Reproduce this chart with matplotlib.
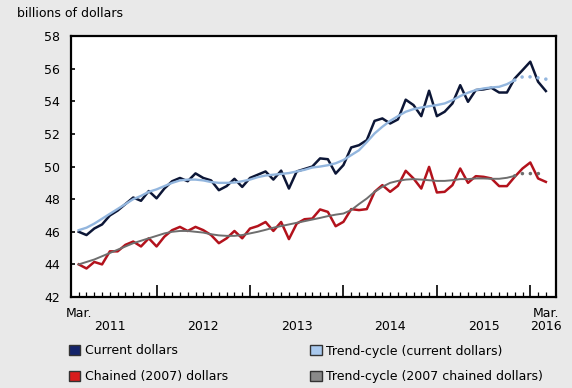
import numpy as np
import matplotlib
matplotlib.use("Agg")
import matplotlib.pyplot as plt
from matplotlib.patches import Patch
from matplotlib.ticker import FixedLocator

# ================ data (billions of dollars, monthly, Mar. 2011 - Mar. 2016) ================
CURRENT = [46.0, 45.8, 46.2, 46.45, 47.0, 47.3, 47.7, 48.1, 47.9, 48.5,
           48.05, 48.65, 49.1, 49.3, 49.1, 49.58, 49.3, 49.15, 48.55, 48.8,
           49.25, 48.75, 49.3, 49.5, 49.7, 49.2, 49.75, 48.65, 49.7, 49.85,
           50.0, 50.5, 50.45, 49.57, 50.09, 51.17, 51.31, 51.62, 52.8, 52.95,
           52.64, 52.89, 54.1, 53.77, 53.09, 54.65, 53.09, 53.36, 53.87, 54.99,
           53.97, 54.69, 54.73, 54.83, 54.54, 54.54, 55.4, 55.91, 56.43, 55.2, 54.63]
CHAINED = [44.0, 43.75, 44.15, 44.0, 44.8, 44.8, 45.2, 45.4, 45.1, 45.6,
           45.1, 45.7, 46.1, 46.3, 46.05, 46.3, 46.1, 45.8, 45.3, 45.6,
           46.05, 45.6, 46.2, 46.35, 46.6, 46.05, 46.6, 45.55, 46.5, 46.77,
           46.81, 47.37, 47.22, 46.34, 46.61, 47.39, 47.33, 47.39, 48.45, 48.86,
           48.45, 48.82, 49.74, 49.27, 48.65, 49.98, 48.41, 48.45, 48.86, 49.88,
           49.0, 49.41, 49.37, 49.27, 48.8, 48.8, 49.37, 49.88, 50.25, 49.27, 49.06]
TREND_CURRENT = [46.1, 46.25, 46.5, 46.8, 47.1, 47.4, 47.7, 48.0, 48.2, 48.45,
                 48.6, 48.8, 49.0, 49.15, 49.2, 49.2, 49.15, 49.05, 49.0, 49.0,
                 49.02, 49.1, 49.2, 49.35, 49.45, 49.5, 49.55, 49.6, 49.7, 49.8,
                 49.94, 50.0, 50.08, 50.2, 50.4, 50.7, 51.0, 51.5, 52.03, 52.44,
                 52.8, 53.09, 53.36, 53.52, 53.62, 53.7, 53.77, 53.87, 54.07, 54.32,
                 54.53, 54.69, 54.79, 54.85, 54.89, 55.05, 55.3, 55.5, 55.5, 55.44, 55.36]
TREND_CHAINED = [44.0, 44.15, 44.3, 44.5, 44.7, 44.9, 45.1, 45.3, 45.45, 45.6,
                 45.75, 45.9, 46.0, 46.05, 46.05, 46.0, 45.95, 45.85, 45.78, 45.75,
                 45.75, 45.8, 45.9, 46.0, 46.12, 46.25, 46.35, 46.45, 46.55, 46.65,
                 46.75, 46.85, 46.96, 47.05, 47.12, 47.33, 47.7, 48.04, 48.45, 48.76,
                 49.0, 49.12, 49.2, 49.23, 49.2, 49.16, 49.12, 49.12, 49.16, 49.23,
                 49.23, 49.27, 49.27, 49.25, 49.25, 49.31, 49.43, 49.57, 49.57, 49.57, 49.53]

YEARS = ["2011", "2012", "2013", "2014", "2015", "2016"]
YEAR_LABEL_POS = [4, 16, 28, 40, 52, 60]   # month index under which each year is written
JAN_TICKS = [10, 22, 34, 46, 58]           # month index of each January
LAST_SOLID = 56                            # trend-cycle is dotted after this month

# ================ style ================
BG = "#e9e9e9"
C_CURRENT = "#0c1636"
C_CHAINED = "#b3121c"
C_TREND_CUR = "#93b6de"
C_TREND_CHA = "#6e6e6e"
FONT = 9

plt.rcParams["font.family"] = ["DejaVu Sans"]

fig = plt.figure(figsize=(5.72, 3.88), dpi=100, facecolor=BG)
ax = fig.add_axes([0.124, 0.2345, 0.848, 0.6725])
ax.set_facecolor("white")

x = np.arange(len(CURRENT))
s = LAST_SOLID

ax.plot(x[:s + 1], TREND_CURRENT[:s + 1], color=C_TREND_CUR, lw=1.7, zorder=3)
ax.plot(x[s:], TREND_CURRENT[s:], color=C_TREND_CUR, lw=2.6,
        linestyle=(0, (0.01, 2.2)), dash_capstyle="round", zorder=3)
ax.plot(x[:s + 1], TREND_CHAINED[:s + 1], color=C_TREND_CHA, lw=1.4, zorder=3)
ax.plot(x[s:], TREND_CHAINED[s:], color=C_TREND_CHA, lw=2.6,
        linestyle=(0, (0.01, 2.2)), dash_capstyle="round", zorder=3)
ax.plot(x, CURRENT, color=C_CURRENT, lw=1.8, zorder=2)
ax.plot(x, CHAINED, color=C_CHAINED, lw=1.8, zorder=2)

# axes
ax.set_xlim(-1, 61.3)
ax.set_ylim(42, 58)
ax.set_yticks(np.arange(42, 59, 2))
for sp in ax.spines.values():
    sp.set_linewidth(1.6)
    sp.set_color("black")
ax.tick_params(axis="y", direction="in", length=3, width=1.2, pad=8, labelsize=FONT)

ax.xaxis.set_major_locator(FixedLocator(JAN_TICKS))
ax.xaxis.set_minor_locator(FixedLocator(list(x)))
ax.set_xticklabels([])
ax.tick_params(axis="x", which="major", direction="in", length=9, width=1.2)
ax.tick_params(axis="x", which="minor", direction="in", length=3.5, width=0.9)

# month / year labels under the axis
trans = ax.get_xaxis_transform()
ax.text(0, -0.062, "Mar.", transform=trans, ha="center", va="center", fontsize=FONT)
ax.text(60, -0.062, "Mar.", transform=trans, ha="center", va="center", fontsize=FONT)
for pos, yr in zip(YEAR_LABEL_POS, YEARS):
    ax.text(pos, -0.112, yr, transform=trans, ha="center", va="center", fontsize=FONT)

fig.text(0.03, 0.966, "billions of dollars", ha="left", va="center", fontsize=FONT)

# legend
handles = [
    Patch(facecolor="#14246a", edgecolor="#333333", label="Current dollars"),
    Patch(facecolor="#d81c1c", edgecolor="#333333", label="Chained (2007) dollars"),
    Patch(facecolor="#a9c9ee", edgecolor="#333333", label="Trend-cycle (current dollars)"),
    Patch(facecolor="#8a8a8a", edgecolor="#333333", label="Trend-cycle (2007 chained dollars)"),
]
fig.legend(handles=handles, ncol=2, loc="upper left", bbox_to_anchor=(0.112, 0.125),
           frameon=False, fontsize=FONT, handlelength=0.9, handleheight=0.9,
           handletextpad=0.35, columnspacing=6.6, labelspacing=1.0, borderaxespad=0)

fig.savefig("out.png", dpi=100, facecolor=BG)
